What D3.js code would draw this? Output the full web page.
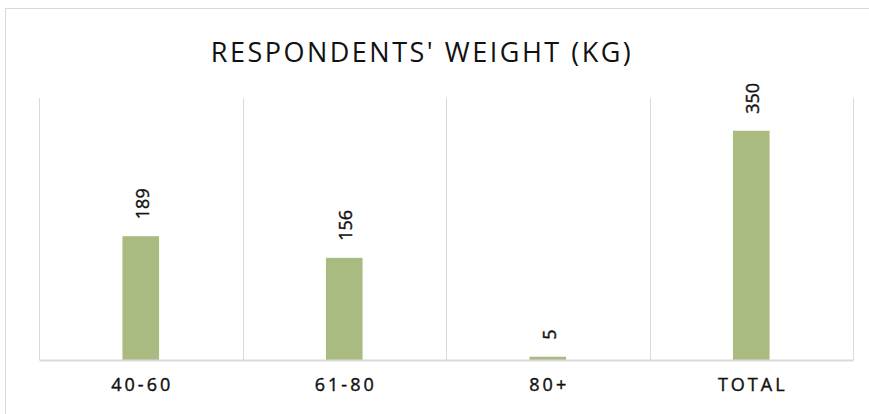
<!DOCTYPE html>
<html><head><meta charset="utf-8">
<script src="https://cdn.jsdelivr.net/npm/d3@7"></script>
<style>body{margin:0;background:#fff}svg{display:block}</style>
</head><body>
<script>
const categories = ["40-60", "61-80", "80+", "TOTAL"];
const values = [189, 156, 5, 350];
const titleText = "RESPONDENTS' WEIGHT (KG)";

const W = 869, H = 414;
const svg = d3.select("body").append("svg").attr("width", W).attr("height", H);
svg.append("rect").attr("x", 0).attr("y", 0).attr("width", W).attr("height", H).attr("fill", "#fff");
svg.append("rect").attr("x", 5.5).attr("y", 8.5).attr("width", 900).attr("height", 420)
  .attr("fill", "none").attr("stroke", "#d9d9d9");

const m = {left: 39, right: 16, top: 98, bottom: 54};
const x = d3.scaleBand().domain(categories).range([m.left, W - m.right]).paddingInner(0).paddingOuter(0);
const y = d3.scaleLinear().domain([0, 400]).range([H - m.bottom, m.top]);

// gridlines between categories
const bounds = categories.map(c => x(c)).concat([x(categories[categories.length - 1]) + x.bandwidth()]);
svg.append("g").selectAll("line").data(bounds).join("line")
  .attr("x1", d => Math.round(d) + 0.5).attr("x2", d => Math.round(d) + 0.5)
  .attr("y1", y(400)).attr("y2", y(0))
  .attr("stroke", "#d9d9d9").attr("stroke-width", 1);

const bw = x.bandwidth() * 0.18;
svg.append("g").selectAll("rect").data(values).join("rect")
  .attr("x", (d, i) => x(categories[i]) + x.bandwidth() / 2 - bw / 2)
  .attr("width", bw)
  .attr("y", d => y(d)).attr("height", d => y(0) - y(d))
  .attr("fill", "#a9bb80");

// axis
const xAxis = svg.append("g").attr("transform", `translate(0,${y(0)})`)
  .call(d3.axisBottom(x).tickSize(0).tickPadding(18));
xAxis.select(".domain").attr("stroke", "#d9d9d9").attr("stroke-width", 2);
xAxis.selectAll("text").attr("font-family", "Open Sans, sans-serif").attr("font-size", 18)
  .attr("fill", "#111").attr("stroke", "#111").attr("stroke-width", 0.4)
  .style("letter-spacing", "3px").attr("dx", "1.5px");

// data labels
svg.append("g").selectAll("text").data(values).join("text")
  .attr("transform", (d, i) => `translate(${x(categories[i]) + x.bandwidth() / 2 + 8},${y(d) - 17}) rotate(-90)`)
  .attr("text-anchor", "start")
  .attr("font-family", "Open Sans, sans-serif").attr("font-size", 18)
  .attr("fill", "#111").attr("stroke", "#111").attr("stroke-width", 0.4).text(d => d);

svg.append("text").attr("x", 422).attr("y", 62).attr("text-anchor", "middle")
  .attr("font-family", "Open Sans, sans-serif").attr("font-size", 27)
  .style("letter-spacing", "2.5px").attr("fill", "#111").text(titleText);
</script>
</body></html>
